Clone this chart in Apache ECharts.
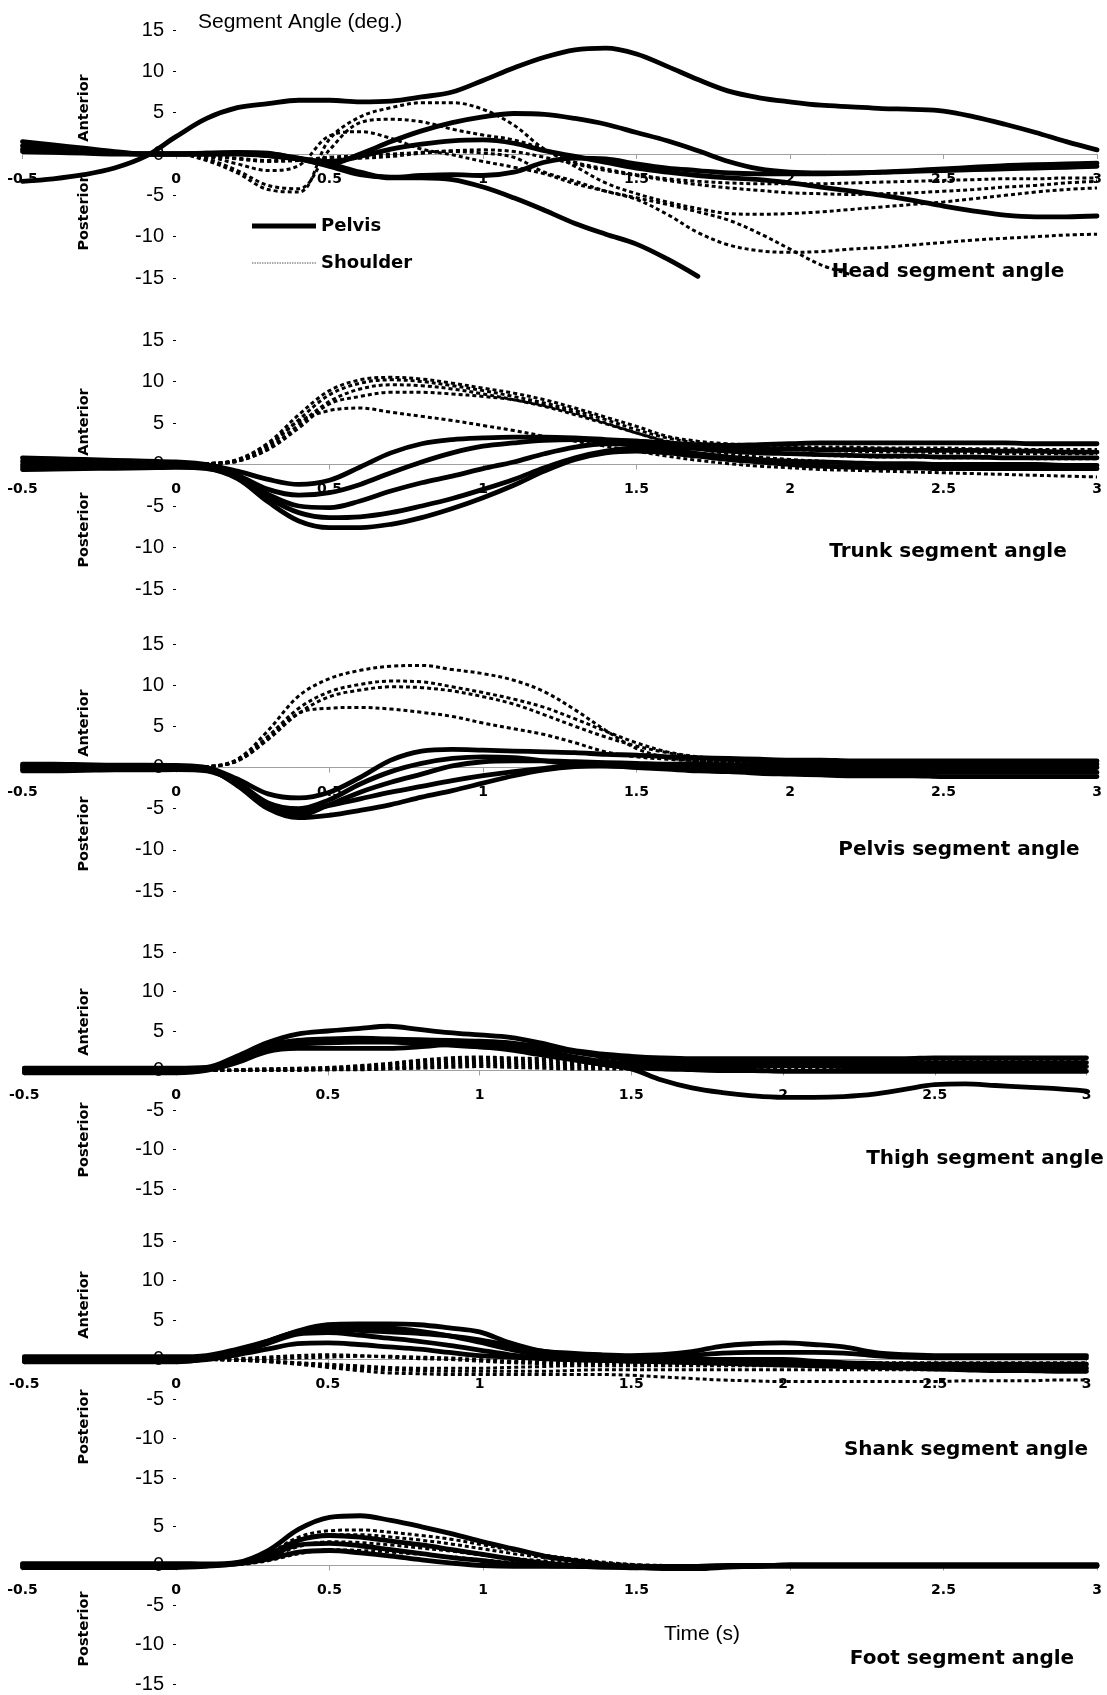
<!DOCTYPE html>
<html><head><meta charset="utf-8">
<script src="https://cdn.jsdelivr.net/npm/echarts@6/dist/echarts.min.js"></script>
<style>html,body{margin:0;padding:0;background:#fff}#c{width:1107px;height:1695px}</style>
</head><body><div id="c"></div>
<script>
// ---------- DATA ----------
const time = [-0.5,-0.4,-0.3,-0.2,-0.1,0,0.1,0.2,0.3,0.4,0.5,0.6,0.7,0.8,0.9,1,1.1,1.2,1.3,1.4,1.5,1.6,1.7,1.8,1.9,2,2.1,2.2,2.3,2.4,2.5,2.6,2.7,2.8,2.9,3];
const xTicks = [-0.5,0,0.5,1,1.5,2,2.5,3];
const panelTitles = ['Head segment angle','Trunk segment angle','Pelvis segment angle','Thigh segment angle','Shank segment angle','Foot segment angle'];
const legendNames = ['Pelvis','Shoulder'];

// Head
const headS1 = [-3.3,-3.0,-2.5,-1.7,-0.3,2.1, 4.3,5.6,6.1,6.5,6.5,6.3, 6.4,6.9,7.5,8.9,10.4,11.7, 12.6,12.8,12.1,10.6,9.0,7.6, 6.8,6.3,5.9,5.7,5.5,5.4, 5.2,4.5,3.6,2.6,1.5,0.5];
const headS2 = [1.5,1.1,0.7,0.3,0.0,0.0, 0.1,0.2,0.1,-0.6,-1.2,0.0, 1.5,2.8,3.8,4.5,4.9,4.8, 4.3,3.6,2.6,1.6,0.4,-0.9, -1.8,-2.2,-2.3,-2.3,-2.2,-2.0, -1.8,-1.6,-1.4,-1.3,-1.2,-1.1];
const headS3 = [1.0,0.7,0.4,0.2,0.0,0.0, 0.1,0.1,-0.2,-0.6,-0.9,-0.3, 0.6,1.2,1.6,1.7,1.3,0.4, -0.3,-1.0,-1.7,-2.2,-2.6,-2.9, -3.1,-3.5,-4.0,-4.5,-5.0,-5.6, -6.3,-6.9,-7.4,-7.6,-7.6,-7.5];
const headS4 = [0.6,0.4,0.2,0.1,0.0,0.0, 0.0,0.1,0.0,-0.5,-1.2,-2.2, -2.9,-2.9,-3.1,-4.0,-5.3,-6.8, -8.4,-9.7,-10.9,-12.7,-14.8,null, null,null,null,null,null,null, null,null,null,null,null,null];
const headS5 = [0.3,0.2,0.1,0.0,0.0,0.0, 0.0,0.0,-0.2,-0.6,-1.5,-2.5, -2.8,-2.6,-2.5,-2.6,-2.2,-1.0, -0.5,-0.6,-1.2,-1.7,-2.0,-2.3, -2.4,-2.4,-2.4,-2.3,-2.2,-2.1, -2.0,-1.9,-1.8,-1.7,-1.6,-1.5];
const headD1 = [0.8,0.6,0.4,0.2,0.0,0.0, -0.8,-2.3,-4.3,-4.6,1.8,4.5, 5.6,6.2,6.2,5.4,3.5,0.6, -1.0,-1.8,-2.5,-3.0,-3.3,-3.5, -3.6,-3.6,-3.6,-3.5,-3.4,-3.3, -3.2,-3.1,-3.0,-3.0,-2.9,-2.9];
const headD2 = [0.5,0.4,0.3,0.1,0.0,0.0, -0.6,-2.0,-3.8,-4.2,0.5,3.8, 4.2,3.9,3.0,2.3,1.7,0.5, -1.5,-3.5,-4.8,-5.8,-6.6,-7.2, -7.3,-7.2,-7.0,-6.7,-6.4,-6.1, -5.8,-5.4,-5.0,-4.6,-4.3,-4.1];
const headD3 = [0.5,0.4,0.3,0.1,0.0,0.0, -0.3,-1.2,-2.0,-1.4,2.2,2.7, 1.9,0.6,-0.1,-0.9,-1.6,-2.4, -3.6,-4.5,-5.3,-6.1,-7.0,-8.0, -9.6,-11.5,-13.4,-14.6,null,null, null,null,null,null,null,null];
const headD4 = [0.3,0.2,0.1,0.0,0.0,0.0, -0.2,-0.6,-0.9,-0.8,-0.6,-0.5, -0.3,0.1,0.3,0.1,-0.4,-2.2, -3.3,-4.5,-5.5,-7.3,-9.5,-11.0, -11.7,-11.9,-11.8,-11.5,-11.3,-11.0, -10.7,-10.4,-10.2,-10.0,-9.8,-9.7];
const headD5 = [0.6,0.4,0.2,0.1,0.0,0.0, -0.2,-0.5,-0.8,-0.7,-0.4,-0.2, 0.0,0.2,0.4,0.5,0.3,-0.4, -1.2,-2.0,-2.6,-3.2,-3.7,-4.1, -4.4,-4.7,-4.8,-4.9,-4.8,-4.7, -4.5,-4.3,-4.0,-3.8,-3.5,-3.3];

// Trunk
const trunkS1 = [0.8,0.7,0.6,0.5,0.4,0.3, 0.0,-0.8,-1.8,-2.4,-1.9,-0.3, 1.4,2.5,3.0,3.2,3.3,3.3, 3.2,3.0,2.8,2.6,2.4,2.3, 2.4,2.5,2.6,2.6,2.6,2.6, 2.6,2.6,2.6,2.5,2.5,2.5];
const trunkS2 = [0.4,0.35,0.3,0.25,0.2,0.15, -0.2,-1.3,-3.0,-3.7,-3.4,-2.4, -1.0,0.3,1.4,2.2,2.6,2.9, 3.0,2.9,2.8,2.5,2.2,2.0, 1.9,1.9,1.8,1.8,1.8,1.7, 1.7,1.7,1.6,1.6,1.5,1.5];
const trunkS3 = [0.0,0.0,0.0,0.0,0.0,0.0, -0.3,-1.5,-3.6,-5.0,-5.2,-4.4, -3.2,-2.2,-1.4,-0.5,0.3,1.3, 2.1,2.5,2.5,2.2,1.9,1.6, 1.4,1.3,1.2,1.1,1.0,1.0, 0.9,0.9,0.8,0.8,0.8,0.8];
const trunkS4 = [-0.3,-0.3,-0.25,-0.2,-0.2,-0.2, -0.4,-1.6,-4.0,-5.8,-6.4,-6.3, -5.8,-5.0,-4.1,-3.0,-1.8,-0.4, 0.8,1.6,2.0,1.8,1.3,0.9, 0.6,0.4,0.3,0.2,0.1,0.1, 0.0,0.0,0.0,0.0,-0.1,-0.1];
const trunkS5 = [-0.6,-0.55,-0.5,-0.45,-0.4,-0.35, -0.5,-1.7,-4.5,-6.8,-7.6,-7.6, -7.2,-6.4,-5.3,-4.0,-2.5,-0.8, 0.6,1.4,1.6,1.4,1.0,0.6, 0.3,0.0,-0.2,-0.3,-0.4,-0.4, -0.5,-0.5,-0.5,-0.5,-0.5,-0.5];
const trunkD1 = [0.2,0.1,0.1,0.0,0.0,0.0, 0.1,0.6,2.6,6.0,8.9,10.2, 10.5,10.3,9.8,9.2,8.6,7.8, 6.8,5.7,4.6,3.4,2.8,2.5, 2.3,2.2,2.1,2.1,2.0,2.0, 2.0,1.9,1.9,1.8,1.8,1.8];
const trunkD2 = [0.1,0.1,0.0,0.0,0.0,0.0, 0.1,0.5,2.2,5.4,8.4,9.8, 10.2,10.0,9.5,8.9,8.2,7.4, 6.5,5.4,4.2,3.2,2.6,2.2, 2.0,1.8,1.7,1.6,1.5,1.5, 1.4,1.4,1.3,1.3,1.3,1.3];
const trunkD3 = [0.0,0.0,0.0,0.0,0.0,0.0, 0.1,0.4,1.9,4.8,7.6,9.1, 9.6,9.5,9.1,8.5,7.8,7.0, 6.0,4.9,3.8,2.8,2.2,1.8, 1.5,1.3,1.1,1.0,0.9,0.9, 0.8,0.8,0.8,0.7,0.7,0.7];
const trunkD4 = [-0.1,0.0,0.0,0.0,0.0,0.0, 0.1,0.4,1.8,4.4,7.3,8.2, 8.7,8.7,8.5,8.2,7.8,7.1, 6.2,5.0,3.8,2.7,1.9,1.3, 0.9,0.6,0.4,0.2,0.1,0.0, 0.0,0.0,-0.1,-0.1,-0.1,-0.1];
const trunkD5 = [-0.2,-0.1,0.0,0.0,0.0,0.0, 0.1,0.5,2.4,5.2,6.5,6.8, 6.3,5.8,5.3,4.7,4.1,3.4, 2.8,2.2,1.6,1.0,0.5,0.1, -0.2,-0.4,-0.6,-0.7,-0.8,-0.9, -1.0,-1.1,-1.2,-1.3,-1.4,-1.5];

// Pelvis
const pelvisS1 = [0.4,0.4,0.35,0.3,0.3,0.25, 0.0,-1.4,-3.2,-3.7,-3.0,-1.2, 0.9,2.0,2.2,2.1,2.0,1.9, 1.8,1.6,1.5,1.3,1.2,1.1, 1.0,0.9,0.9,0.8,0.8,0.8, 0.8,0.8,0.8,0.8,0.8,0.8];
const pelvisS2 = [0.0,0.0,0.0,0.0,0.0,0.0, -0.2,-2.2,-5.0,-6.1,-5.8,-5.2, -4.5,-3.6,-2.8,-1.9,-1.0,-0.3, 0.1,0.2,0.1,-0.1,-0.3,-0.5, -0.7,-0.8,-0.9,-1.0,-1.0,-1.0, -1.1,-1.1,-1.1,-1.1,-1.1,-1.1];
const pelvisS3 = [0.2,0.2,0.15,0.15,0.1,0.1, -0.1,-1.8,-4.3,-5.0,-3.9,-2.0, -0.5,0.5,1.1,1.3,1.2,0.8, 0.4,0.2,0.1,0.1,0.0,0.0, 0.0,0.0,0.0,0.0,0.0,0.0, 0.0,0.0,0.0,0.0,0.0,0.0];
const pelvisS4 = [-0.2,-0.2,-0.15,-0.15,-0.1,-0.1, -0.3,-2.0,-4.8,-5.8,-4.5,-3.0, -1.8,-0.8,0.2,0.7,0.8,0.8, 0.7,0.6,0.5,0.4,0.4,0.3, 0.3,0.3,0.3,0.3,0.4,0.4, 0.4,0.4,0.4,0.4,0.4,0.4];
const pelvisS5 = [-0.4,-0.4,-0.35,-0.3,-0.3,-0.25, -0.4,-1.9,-4.5,-5.3,-4.6,-3.8, -3.0,-2.3,-1.6,-1.0,-0.5,-0.1, 0.2,0.2,0.0,-0.2,-0.4,-0.5, -0.5,-0.6,-0.6,-0.6,-0.6,-0.6, -0.6,-0.6,-0.6,-0.6,-0.6,-0.6];
const pelvisD1 = [0.0,0.0,0.0,0.0,0.0,0.0, 0.1,1.0,4.5,8.7,10.8,11.8, 12.3,12.4,11.9,11.4,10.6,9.2, 7.0,4.5,2.3,1.2,0.8,0.7, 0.6,0.5,0.5,0.4,0.4,0.4, 0.4,0.3,0.3,0.3,0.3,0.3];
const pelvisD2 = [0.0,0.0,0.0,0.0,0.0,0.0, 0.1,0.9,3.8,7.2,9.2,10.1, 10.5,10.4,9.8,9.1,8.3,7.3, 5.9,4.4,3.0,1.9,1.3,0.9, 0.7,0.6,0.5,0.5,0.4,0.4, 0.4,0.4,0.4,0.4,0.4,0.4];
const pelvisD3 = [0.0,0.0,0.0,0.0,0.0,0.0, 0.1,0.8,3.4,6.6,8.6,9.4, 9.8,9.7,9.3,8.6,7.7,6.4, 5.0,3.7,2.6,1.8,1.2,0.9, 0.7,0.6,0.5,0.5,0.5,0.5, 0.5,0.5,0.5,0.5,0.5,0.5];
const pelvisD4 = [0.0,0.0,0.0,0.0,0.0,0.0, 0.1,0.8,3.5,6.6,7.2,7.3, 7.1,6.7,6.2,5.4,4.7,4.0, 3.0,1.9,1.3,1.0,0.8,0.7, 0.6,0.5,0.5,0.5,0.5,0.5, 0.5,0.5,0.5,0.5,0.5,0.5];

// Thigh
const thighS1 = [0.3,0.3,0.3,0.3,0.3,0.3, 0.4,1.8,3.5,4.6,5.0,5.3, 5.6,5.2,4.8,4.5,4.2,3.5, 2.6,2.1,1.8,1.6,1.5,1.5, 1.5,1.5,1.5,1.5,1.5,1.5, 1.6,1.6,1.6,1.6,1.6,1.6];
const thighS2 = [0.15,0.15,0.15,0.15,0.15,0.15, 0.2,1.5,3.2,3.8,4.0,4.1, 4.0,3.9,3.8,3.7,3.5,3.0, 2.4,1.8,1.4,1.2,1.1,1.0, 1.0,1.0,1.0,1.0,1.0,1.0, 1.0,1.0,1.0,1.0,1.0,1.0];
const thighS3 = [0,0,0,0,0,0, 0.1,1.0,2.4,2.8,2.8,2.8, 2.8,3.0,3.3,3.5,3.3,2.6, 1.8,1.2,0.9,0.7,0.6,0.6, 0.6,0.6,0.6,0.5,0.5,0.5, 0.5,0.5,0.5,0.5,0.5,0.5];
const thighS4 = [-0.15,-0.15,-0.15,-0.15,-0.15,-0.15, 0.1,1.3,2.9,3.4,3.6,3.8, 3.8,3.6,3.3,3.0,2.6,2.0, 1.4,0.8,0.2,-1.2,-2.2,-2.8, -3.2,-3.4,-3.4,-3.3,-3.0,-2.4, -1.8,-1.7,-1.9,-2.1,-2.3,-2.6];
const thighS5 = [-0.3,-0.3,-0.3,-0.3,-0.3,-0.3, 0.0,1.1,2.7,3.3,3.5,3.6, 3.6,3.4,3.2,3.0,2.8,2.2, 1.5,0.8,0.4,0.2,0.1,0.0, 0.0,-0.1,-0.1,-0.1,-0.1,-0.1, -0.1,-0.1,-0.1,-0.1,-0.1,-0.1];
const thighD1 = [0,0,0,0,0,0, 0,0.1,0.2,0.3,0.4,0.6, 0.9,1.3,1.6,1.7,1.6,1.5, 1.4,1.4,1.4,1.4,1.4,1.4, 1.4,1.4,1.4,1.4,1.4,1.4, 1.4,1.4,1.4,1.4,1.4,1.4];
const thighD2 = [0,0,0,0,0,0, 0,0.1,0.2,0.2,0.3,0.5, 0.8,1.1,1.3,1.4,1.3,1.2, 1.1,1.1,1.1,1.1,1.1,1.1, 1.1,1.1,1.2,1.2,1.2,1.2, 1.2,1.2,1.2,1.2,1.2,1.2];
const thighD3 = [0,0,0,0,0,0, 0,0,0.1,0.2,0.2,0.3, 0.5,0.8,1.0,1.1,1.0,0.9, 0.8,0.8,0.8,0.8,0.8,0.8, 0.8,0.8,0.8,0.8,0.8,0.8, 0.8,0.8,0.8,0.8,0.8,0.8];
const thighD4 = [0,0,0,0,0,0, 0,0,0,0.1,0.1,0.2, 0.3,0.5,0.7,0.8,0.7,0.6, 0.5,0.5,0.5,0.5,0.5,0.5, 0.5,0.5,0.5,0.5,0.5,0.5, 0.5,0.5,0.5,0.5,0.5,0.5];
const thighD5 = [0,0,0,0,0,0, 0,0,0,0,0.1,0.1, 0.2,0.3,0.4,0.5,0.4,0.3, 0.2,0.2,0.2,0.2,0.2,0.2, 0.2,0.2,0.2,0.2,0.2,0.2, 0.2,0.2,0.2,0.2,0.2,0.2];

// Shank
const shankS1 = [0.35,0.35,0.35,0.35,0.35,0.35, 0.5,1.3,2.3,3.6,4.4,4.5, 4.5,4.4,4.0,3.5,2.1,1.1, 0.8,0.6,0.5,0.6,1.0,1.7, 2.0,2.1,1.9,1.6,0.9,0.6, 0.5,0.5,0.5,0.5,0.5,0.5];
const shankS2 = [0.15,0.15,0.15,0.15,0.15,0.15, 0.2,1.0,2.2,3.4,3.8,3.7, 3.5,3.3,3.0,2.5,1.8,1.1, 0.6,0.4,0.3,0.3,0.5,0.8, 0.9,0.9,0.9,0.8,0.5,0.3, 0.2,0.2,0.2,0.2,0.2,0.2];
const shankS3 = [0,0,0,0,0,0, 0.2,0.9,2.0,3.2,3.4,3.1, 2.7,2.3,1.8,1.2,0.6,0.2, 0.0,-0.1,-0.2,-0.2,-0.3,-0.3, -0.4,-0.4,-0.5,-0.6,-0.7,-0.8, -0.9,-1.0,-1.0,-1.1,-1.1,-1.1];
const shankS4 = [-0.2,-0.2,-0.2,-0.2,-0.2,-0.2, 0.0,0.6,1.3,2.0,2.1,1.9, 1.6,1.3,0.9,0.5,0.3,0.1, 0.0,-0.1,-0.2,-0.3,-0.4,-0.5, -0.6,-0.7,-0.8,-0.9,-1.0,-1.1, -1.2,-1.3,-1.4,-1.4,-1.5,-1.5];
const shankS5 = [-0.3,-0.3,-0.3,-0.3,-0.3,-0.3, 0.1,1.0,2.3,3.5,4.0,4.1, 4.0,3.6,3.0,2.2,1.3,0.6, 0.3,0.1,0.0,0.0,0.0,0.0, 0.0,0.0,-0.2,-0.4,-0.5,-0.6, -0.6,-0.6,-0.6,-0.6,-0.6,-0.6];
const shankD1 = [0,0,0,0,0,0, 0,-0.1,-0.3,-0.6,-1.0,-1.4, -1.7,-1.8,-1.9,-1.9,-1.9,-1.9, -1.9,-1.9,-2.0,-2.2,-2.4,-2.6, -2.7,-2.8,-2.8,-2.8,-2.8,-2.8, -2.8,-2.7,-2.7,-2.7,-2.6,-2.6];
const shankD2 = [0,0,0,0,0,0, 0,-0.1,-0.2,-0.5,-0.8,-1.1, -1.3,-1.4,-1.5,-1.5,-1.5,-1.5, -1.4,-1.3,-1.3,-1.3,-1.3,-1.3, -1.3,-1.3,-1.3,-1.3,-1.3,-1.3, -1.3,-1.3,-1.3,-1.3,-1.3,-1.3];
const shankD3 = [0,0,0,0,0,0, 0,-0.1,-0.2,-0.4,-0.6,-0.8, -1.0,-1.1,-1.1,-1.1,-1.0,-0.9, -0.8,-0.8,-0.8,-0.8,-0.8,-0.8, -0.8,-0.8,-0.8,-0.8,-0.8,-0.8, -0.8,-0.8,-0.8,-0.8,-0.8,-0.8];
const shankD4 = [0,0,0,0,0,0, 0,0,0.1,0.2,0.3,0.4, 0.4,0.3,0.2,0.0,-0.2,-0.3, -0.4,-0.4,-0.4,-0.4,-0.4,-0.4, -0.4,-0.4,-0.4,-0.4,-0.4,-0.4, -0.4,-0.4,-0.4,-0.4,-0.4,-0.4];
const shankD5 = [0,0,0,0,0,0, 0,0.1,0.3,0.5,0.6,0.5, 0.3,0.1,0.0,-0.2,-0.4,-0.5, -0.5,-0.5,-0.5,-0.5,-0.5,-0.5, -0.5,-0.5,-0.5,-0.5,-0.5,-0.5, -0.5,-0.5,-0.5,-0.5,-0.5,-0.5];

// Foot
const footS1 = [0.25,0.25,0.25,0.25,0.25,0.25, 0.2,0.4,1.9,4.6,6.1,6.3, 5.7,4.9,4.0,3.0,2.1,1.2, 0.6,0.1,-0.2,-0.4,-0.4,-0.2, -0.1,0.1,0.1,0.1,0.1,0.1, 0.1,0.1,0.1,0.1,0.1,0.1];
const footS2 = [0.1,0.1,0.1,0.1,0.1,0.1, 0.1,0.3,1.4,3.2,3.8,3.6, 3.1,2.6,2.0,1.4,0.8,0.3, 0.0,-0.2,-0.3,-0.3,-0.2,-0.1, 0,0,0,0,0,0, 0,0,0,0,0,0];
const footS3 = [-0.1,-0.1,-0.1,-0.1,-0.1,-0.1, 0.0,0.3,1.2,2.6,2.8,2.5, 2.0,1.5,1.0,0.6,0.2,0.0, -0.1,-0.2,-0.2,-0.2,-0.1,0, 0,0,0,0,0,0, 0,0,0,0,0,0];
const footS4 = [-0.25,-0.25,-0.25,-0.25,-0.25,-0.25, -0.1,0.2,0.8,1.7,1.9,1.6, 1.2,0.7,0.3,0,-0.1,-0.1, -0.1,-0.1,-0.1,-0.1,-0.1,-0.1, -0.1,-0.1,-0.1,-0.1,-0.1,-0.1, -0.1,-0.1,-0.1,-0.1,-0.1,-0.1];
const footD1 = [0,0,0,0,0,0, 0.1,0.3,1.5,3.6,4.4,4.5, 4.2,3.8,3.3,2.6,1.9,1.3, 0.8,0.4,0.1,-0.1,-0.2,-0.2, -0.1,0,0,0,0,0, 0,0,0,0,0,0];
const footD2 = [0,0,0,0,0,0, 0.1,0.3,1.4,3.2,3.9,3.9, 3.6,3.2,2.7,2.1,1.5,1.0, 0.6,0.3,0.1,0,-0.1,-0.1, 0,0,0,0,0,0, 0,0,0,0,0,0];
const footD3 = [0,0,0,0,0,0, 0.1,0.2,1.0,2.4,3.0,2.9, 2.6,2.2,1.8,1.3,0.9,0.6, 0.3,0.1,0,0,0,0, 0,0,0,0,0,0, 0,0,0,0,0,0];
const footD4 = [0,0,0,0,0,0, 0,0.1,0.6,1.5,2.0,1.9, 1.7,1.4,1.1,0.7,0.4,0.2, 0.1,0,0,0,0,0, 0,0,0,0,0,0, 0,0,0,0,0,0];

const panelSolid = [
  [headS1,headS2,headS3,headS4,headS5],
  [trunkS1,trunkS2,trunkS3,trunkS4,trunkS5],
  [pelvisS1,pelvisS2,pelvisS3,pelvisS4,pelvisS5],
  [thighS1,thighS2,thighS3,thighS4,thighS5],
  [shankS1,shankS2,shankS3,shankS4,shankS5],
  [footS1,footS2,footS3,footS4]
];
const panelDashed = [
  [headD1,headD2,headD3,headD4,headD5],
  [trunkD1,trunkD2,trunkD3,trunkD4,trunkD5],
  [pelvisD1,pelvisD2,pelvisD3,pelvisD4],
  [thighD1,thighD2,thighD3,thighD4,thighD5],
  [shankD1,shankD2,shankD3,shankD4,shankD5],
  [footD1,footD2,footD3,footD4]
];
const yMin = -15;
const yMax = [15,15,15,15,15,5];

// ---------- LAYOUT ----------
const W = 1107;
const gridBoxes = [
  {left:22.5, right:10, top:30,   height:248},
  {left:22.5, right:10, top:340,  height:249},
  {left:22.5, right:10, top:644,  height:247},
  {left:24.3, right:20.5, top:952,  height:237},
  {left:24.3, right:20.5, top:1241, height:237},
  {left:22.5, right:10, top:1526, height:158}
];
const titlePos = [[948,272],[948,552],[959,850],[985,1159],[966,1450],[962,1659]];
const anteriorY = [108,422,723,1022,1305,null];
const posteriorY = [213,530,834,1140,1427,1629];

const chart = echarts.init(document.getElementById('c'), null, {renderer:'canvas'});
const grid = [], xAxis = [], yAxis = [], series = [], graphic = [];
gridBoxes.forEach((g, i) => {
  const gw = W - g.left - g.right;
  const zeroFromLeft = gw * (0 - (-0.5)) / 3.5;
  const zeroFromBottom = g.height * (0 - yMin) / (yMax[i] - yMin);
  grid.push(Object.assign({containLabel:false, outerBoundsMode:'none'}, g));
  xAxis.push({
    type:'value', gridIndex:i, min:-0.5, max:3, interval:0.5,
    position:'bottom', offset:-zeroFromBottom,
    axisLine:{show:true, onZero:false, lineStyle:{color:'#a0a0a0', width:1}},
    axisTick:{show:true, length:5, lineStyle:{color:'#a0a0a0'}},
    axisLabel:{margin:18, color:'#000', fontSize:14, fontWeight:'bold', fontFamily:'DejaVu Sans',
      showMinLabel:true, showMaxLabel:true, formatter: v => String(v)},
    splitLine:{show:false}
  });
  yAxis.push({
    type:'value', gridIndex:i, min:yMin, max:yMax[i], interval:5,
    position:'left', offset:-zeroFromLeft,
    axisLine:{show:false, onZero:false},
    axisTick:{show:true, length:3, lineStyle:{color:'#000'}},
    axisLabel:{margin:12, color:'#000', fontSize:20, fontFamily:'Liberation Sans', showMinLabel:true, showMaxLabel:true},
    splitLine:{show:false}
  });
  panelDashed[i].forEach(arr => {
    series.push({
      type:'line', name:legendNames[1], xAxisIndex:i, yAxisIndex:i, clip:false,
      data: time.map((t,k) => [t, arr[k]]), smooth:0.35, symbol:'none', z:2,
      itemStyle:{color:'#000'},
      lineStyle:{color:'#000', width:3, type:[4,3], cap:'butt'}
    });
  });
  panelSolid[i].forEach(arr => {
    series.push({
      type:'line', name:legendNames[0], xAxisIndex:i, yAxisIndex:i, clip:false,
      data: time.map((t,k) => [t, arr[k]]), smooth:0.35, symbol:'none', z:3,
      itemStyle:{color:'#000'},
      lineStyle:{color:'#000', width:4.8, cap:'round', join:'round'}
    });
  });
  graphic.push({type:'text', x:titlePos[i][0], y:titlePos[i][1], z:10,
    style:{text:panelTitles[i], font:'bold 20px "DejaVu Sans"', fill:'#000',
      textAlign:'center', align:'center', textVerticalAlign:'middle', verticalAlign:'middle'}});
  if (anteriorY[i] !== null) {
    graphic.push({type:'text', x:84, y:anteriorY[i], rotation:Math.PI/2, z:10,
      style:{text:'Anterior', font:'bold 14.5px "DejaVu Sans"', fill:'#000',
        textAlign:'center', align:'center', textVerticalAlign:'middle', verticalAlign:'middle'}});
  }
  graphic.push({type:'text', x:84, y:posteriorY[i], rotation:Math.PI/2, z:10,
    style:{text:'Posterior', font:'bold 14.5px "DejaVu Sans"', fill:'#000',
      textAlign:'center', align:'center', textVerticalAlign:'middle', verticalAlign:'middle'}});
});
graphic.push({type:'text', x:198, y:22, z:10,
  style:{text:'Segment Angle (deg.)', font:'21px "Liberation Sans"', fill:'#000',
    textAlign:'left', align:'left', textVerticalAlign:'middle', verticalAlign:'middle'}});
graphic.push({type:'text', x:702, y:1634, z:10,
  style:{text:'Time (s)', font:'21px "Liberation Sans"', fill:'#000',
    textAlign:'center', align:'center', textVerticalAlign:'middle', verticalAlign:'middle'}});

// legend icons (64 x 14 boxes)
const boxCorners = 'M0,0h0.01v0.01h-0.01z M63.99,13.99h0.01v0.01h-0.01z';
const solidIcon = 'path://' + boxCorners + ' M0,4.4h64v5.2h-64z';
let dotted = boxCorners;
for (let x = 0; x < 64; x += 2.5) dotted += ' M' + x + ',6.3h1.4v1.4h-1.4z';
const dottedIcon = 'path://' + dotted;

chart.setOption({
  animation:false,
  backgroundColor:'#fff',
  grid, xAxis, yAxis, series, graphic,
  legend:{
    orient:'vertical', left:252, top:217, itemWidth:64, itemHeight:14, itemGap:19,
    selectedMode:false, padding:0,
    textStyle:{fontFamily:'DejaVu Sans', fontWeight:'bold', fontSize:18, color:'#000'},
    data:[
      {name:legendNames[0], icon:solidIcon, itemStyle:{color:'#000'}},
      {name:legendNames[1], icon:dottedIcon, itemStyle:{color:'#888'}}
    ]
  }
});
</script>
</body></html>
